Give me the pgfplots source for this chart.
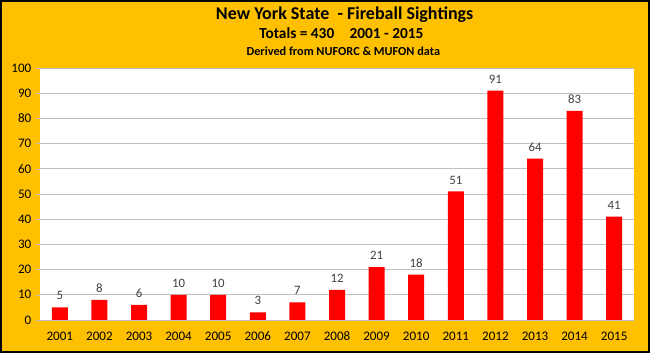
\documentclass[border=0pt]{standalone}
\usepackage{pgfplots}
\pgfplotsset{compat=1.18}
\usepackage{fontspec}
\setmainfont{Carlito}
\definecolor{bgorange}{HTML}{FFC000}
\definecolor{gridgray}{HTML}{BFBFBF}
\definecolor{lblgray}{HTML}{404040}
\begin{document}
\begin{tikzpicture}
\path[use as bounding box] (0,0) rectangle (487.5pt,264.75pt);
\fill[bgorange] (0,0) rectangle (487.5pt,264.75pt);
\draw[black,line width=1.5pt] (0.75pt,0.75pt) rectangle (486.75pt,264pt);
\node[font=\bfseries\fontsize{13.5}{15}\selectfont] at (258.5pt,254pt) {New York State\ \ - Fireball Sightings};
\node[font=\bfseries\fontsize{11.5}{13}\selectfont] at (256pt,239.5pt) {Totals = 430\quad 2001 - 2015};
\node[font=\bfseries\fontsize{9.2}{11}\selectfont] at (257.5pt,226pt) {Derived from NUFORC \& MUFON data};
\begin{axis}[
  at={(30pt,24.75pt)}, anchor=south west,
  scale only axis, width=445.5pt, height=189pt,
  axis background/.style={fill=white},
  ymin=0, ymax=100, ytick={0,10,...,100},
  xmin=-0.5, xmax=14.5,
  xtick={0,...,14},
  xticklabels={2001,2002,2003,2004,2005,2006,2007,2008,2009,2010,2011,2012,2013,2014,2015},
  xtick style={draw=none},
  extra x ticks={-0.5,0.5,...,14.5},
  extra x tick labels={},
  extra x tick style={major tick length=4pt, tick style={draw=gridgray}, tick align=outside, grid=none},
  ymajorgrids, grid style={gridgray, line width=0.6pt},
  ytick style={draw=gridgray}, major tick length=3pt, tick align=outside,
  axis line style={draw=none},
  axis x line*=bottom, axis y line*=left,
  x axis line style={draw=gridgray,line width=0.6pt},
  ticklabel style={font=\fontsize{9.8}{11}\selectfont, text=black},
  xticklabel style={yshift=-2.5pt},
  /pgf/number format/assume math mode=true,
  ybar, bar width=12pt,
  nodes near coords,
  every node near coord/.append style={font=\fontsize{9.6}{11}\selectfont, text=lblgray, yshift=2pt},
  clip=false,
]
\addplot[fill=red, draw=none] coordinates {
(0,5) (1,8) (2,6) (3,10) (4,10) (5,3) (6,7) (7,12) (8,21) (9,18) (10,51) (11,91) (12,64) (13,83) (14,41)};
\end{axis}
\end{tikzpicture}
\end{document}
